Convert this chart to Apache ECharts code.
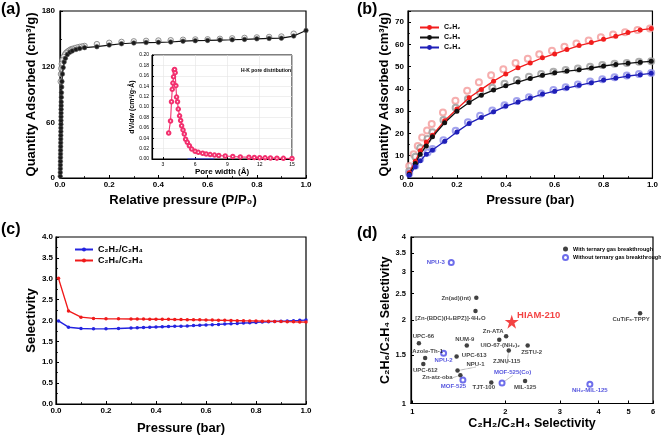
<!DOCTYPE html>
<html><head><meta charset="utf-8">
<script src="https://cdn.jsdelivr.net/npm/echarts@6/dist/echarts.min.js"></script>
<style>html,body{margin:0;padding:0;background:#fff}#c{width:661px;height:438px}</style>
</head><body><div id="c"></div>
<script>
// ---------- Panel (a): N2 isotherm ----------
const aAdsX = [0.001,0.0012,0.0014,0.0016,0.0018,0.002,0.0022,0.0024,0.0026,0.0028,0.003,0.0032,0.0034,0.0036,0.0038,0.004,0.0042,0.0044,0.0046,0.0048,0.005,0.0055,0.006,0.007,0.008,0.01,0.013,0.017,0.022,0.03,0.04,0.05,0.065,0.08,0.1,
  0.15,0.2,0.25,0.3,0.35,0.4,0.45,0.5,0.55,0.6,0.65,0.7,0.75,0.8,0.85,0.9,0.95,1.0];
const aAdsY = [2,6,10,14,18,22,26,30,34,38,42,46,50,54,58,62,66,70,74,78,82,87,92,98,104,112,119,125,129,133,135.5,137,138.5,139.5,140.5,
  141.5,143.3,144.7,145.5,146,146.2,146.6,147.5,148,148.3,148.7,149,149.4,150,150.4,150.7,153,159];
const aDesX = [0.95,0.9,0.85,0.8,0.75,0.7,0.65,0.6,0.55,0.5,0.45,0.4,0.35,0.3,0.25,0.2,0.15,0.1,0.09,0.08,0.07,0.06,0.05,0.045,0.04,0.035,0.03,0.025,0.02,0.015,0.01,0.007,0.005,0.004,0.003];
const aDesY = [155.5,152.5,152,151.5,151,150.5,150,149.5,149.3,149,148.5,148.2,147.8,147.3,146.7,145.7,144.3,142.3,141.8,141.3,140.7,140,139.2,138.6,137.9,137,136,134.8,133,130.5,127,123,118,112,104];
// inset: H-K pore distribution
const poreX = [3.55,3.72,3.81,3.88,3.94,4.0,4.06,4.1,4.15,4.22,4.28,4.37,4.44,4.56,4.66,4.75,4.88,5.0,5.12,5.28,5.47,5.69,6.0,6.3,6.7,7.03,7.4,7.8,8.2,8.8,9.5,10.2,11.0,11.5,12.0,12.5,13.0,13.6,14.2,15.0];
const poreY = [0.050,0.073,0.110,0.134,0.146,0.158,0.171,0.172,0.166,0.141,0.119,0.110,0.096,0.083,0.074,0.064,0.056,0.048,0.038,0.032,0.0255,0.019,0.0147,0.0128,0.011,0.0096,0.0085,0.0075,0.0068,0.0058,0.0048,0.004,0.0033,0.0029,0.0025,0.0022,0.002,0.0016,0.0013,0.001];
const poreBaseX = [5.3,7.8];
const poreBaseY = [0,0];
const poreXTicks = [3,6,9,12,15];

// ---------- Panel (b): single-component isotherms ----------
const bX = [0.005,0.03,0.05,0.075,0.1,0.15,0.2,0.25,0.3,0.35,0.4,0.45,0.5,0.55,0.6,0.65,0.7,0.75,0.8,0.85,0.9,0.95,0.995];
const bC2H2 = [2.4,7.5,12.2,16.2,19.2,25.7,31,36,39.8,43.5,46.7,49.5,51.7,54,55.7,57.7,59.5,60.8,62.3,63.7,65.3,66.5,67.1];
const bC2H6 = [1.7,6.5,10.7,14.4,18.5,24.8,30,33.9,37.2,39.5,41.4,43.1,44.7,46.2,47.3,48,48.6,49.4,50.3,51,51.5,52,52.4];
const bC2H4 = [1.2,5,7.7,10.7,12.6,16.5,20.7,24.5,27.2,29.7,32.3,34.1,35.9,37.7,39,40.4,41.6,42.8,44,44.9,45.8,46.4,47];
const bDesX1 = [0.005,0.023,0.04,0.058,0.078,0.097,0.143,0.194,0.242,0.29,0.34,0.39,0.44,0.49,0.537,0.589,0.64,0.689,0.739,0.789,0.839,0.888,0.939,0.99];
const bC2H2Des = [5.4,10.7,14.4,18.2,21.3,24.2,29.4,34.7,39.2,43,46.1,48.8,51.6,53.5,55.6,57.2,59,60.4,61.7,63.2,64.4,65.5,66.5,67.1];
const bDesX2 = [0.005,0.03,0.05,0.08,0.1,0.145,0.195,0.245,0.295,0.345,0.395,0.445,0.495,0.545,0.595,0.645,0.695,0.745,0.795,0.845,0.895,0.945,0.995];
const bC2H6Des = [3,9.5,13.5,17.5,20.5,26,31.5,35.5,38.5,40.5,42.3,44,45.5,46.7,47.7,48.5,49.2,50,50.7,51.3,51.7,52.2,52.4];
const bC2H4Des = [2,5.5,8.5,11.5,13,17,21.2,25,28,30.3,32.7,34.6,36.3,38,39.5,40.8,42,43.3,44.3,45.2,46,46.7,47.2];
const bNames = ['C\u2082H\u2082','C\u2082H\u2086','C\u2082H\u2084'];

// ---------- Panel (c): IAST selectivity ----------
const cX = [0.01,0.05,0.1,0.15,0.2,0.25,0.3,0.325,0.35,0.375,0.4,0.425,0.45,0.475,0.5,0.525,0.55,0.575,0.6,0.625,0.65,0.675,0.7,0.725,0.75,0.775,0.8,0.825,0.85,0.875,0.9,0.925,0.95,0.975,1.0];
const cC2H2 = [1.99,1.84,1.81,1.80,1.80,1.81,1.82,1.825,1.832,1.838,1.845,1.85,1.855,1.86,1.865,1.87,1.878,1.886,1.895,1.90,1.907,1.915,1.925,1.93,1.94,1.947,1.955,1.962,1.97,1.978,1.985,1.99,1.997,2.003,2.01];
const cC2H6 = [3.01,2.23,2.08,2.05,2.04,2.04,2.035,2.035,2.033,2.03,2.03,2.028,2.027,2.025,2.022,2.02,2.018,2.016,2.013,2.01,2.007,2.003,2.0,1.997,1.993,1.99,1.987,1.984,1.981,1.978,1.975,1.972,1.968,1.965,1.962];
const cNames = ['C\u2082H\u2082/C\u2082H\u2084','C\u2082H\u2086/C\u2082H\u2084'];

// ---------- Panel (d): comparison ----------
const withNames = ['Zn(ad)(int)','[Zn-(BDC)(H\u2082BPZ)]\u00b74H\u2082O','CuTiF\u2086-TPPY','Zn-ATA','UIO-67-(NH\u2082)\u2082','NUM-9','UPC-66','Azole-Th-1','UPC-613','ZJNU-115','ZSTU-2','UPC-612','NPU-1','Zn-atz-oba','TJT-100','MIL-125'];
const withX = [1.61,1.60,5.45,2.01,1.91,1.50,1.05,1.10,1.39,2.05,2.36,1.085,1.40,1.43,1.80,2.315];
const withY = [2.41,2.16,2.12,1.75,1.70,1.62,1.65,1.46,1.48,1.555,1.62,1.39,1.315,1.265,1.19,1.205];
const withoutNames = ['NPU-3','NPU-2','MOF-525','MOF-525(Co)','NH\u2082-MIL-125'];
const withoutX = [1.336,1.262,1.457,1.95,3.75];
const withoutY = [3.235,1.52,1.215,1.185,1.175];
const hiamName = 'HIAM-210';
const hiamX = 2.096, hiamY = 1.977;
const dXTicks = [1,2,3,4,5,6];
const dYTicks = [1,1.5,2,2.5,3,3.5,4];
const dLegend = ['With ternary gas breakthrough','Without ternary gas breakthrough'];

// ---------- label placement (style, kept apart from the data) ----------
const dLabelPlace = {
  'NPU-3':['left',0,0],
  'Zn(ad)(int)':['left',0,0],
  '[Zn-(BDC)(H\u2082BPZ)]\u00b74H\u2082O':['inside',-25,7.5],
  'CuTiF\u2086-TPPY':['inside',-9,6.5],
  'Zn-ATA':['inside',-13,-5],
  'UIO-67-(NH\u2082)\u2082':['inside',1,6],
  'NUM-9':['inside',-2,-6],
  'UPC-66':['inside',4.5,-7.5],
  'Azole-Th-1':['inside',2.5,-6.5],
  'NPU-2':['inside',0,7],
  'UPC-613':['right',0,-1.5],
  'ZJNU-115':['inside',-2,11],
  'ZSTU-2':['inside',4,6.5],
  'UPC-612':['inside',2,6.5],
  'NPU-1':['inside',18,-6.5],
  'Zn-atz-oba':['inside',-23,2.5],
  'MOF-525':['inside',-9.5,6],
  'TJT-100':['inside',-7.5,5],
  'MOF-525(Co)':['inside',10.5,-10.5],
  'MIL-125':['inside',0,6.5],
  'NH\u2082-MIL-125':['inside',0,6.5],
  'HIAM-210':['inside',27,-6]
};
const dLeaders = ['NPU-1','Zn-atz-oba','MOF-525(Co)','ZJNU-115'];

const FF = '"Liberation Sans", Arial, sans-serif';
const zip = (xs, ys) => xs.map((x, i) => [x, ys[i]]);

function axis(extra) {
  const base = {
    type: 'value',
    axisLine: {show: true, onZero: false, lineStyle: {color: '#000', width: 1.2}},
    axisTick: {show: true, inside: true, length: 3, lineStyle: {color: '#000', width: 1}},
    minorTick: {show: true, splitNumber: 2, length: 2, lineStyle: {color: '#000', width: 0.8}},
    splitLine: {show: false},
    axisLabel: {color: '#000', fontFamily: FF, fontWeight: 'bold', fontSize: 8, margin: 4},
    nameLocation: 'middle',
    nameTextStyle: {color: '#000', fontFamily: FF, fontWeight: 'bold', fontSize: 13}
  };
  for (const k in extra) {
    if (base[k] && typeof base[k] === 'object' && typeof extra[k] === 'object' && !Array.isArray(extra[k])) {
      base[k] = Object.assign({}, base[k], extra[k]);
    } else base[k] = extra[k];
  }
  return base;
}
const fix = d => v => v.toFixed(d);

const gridBox = {show: true, borderColor: '#000', borderWidth: 1.2, containLabel: false};
const grids = [
  Object.assign({left: 60, top: 11, width: 246, height: 167}, gridBox),
  Object.assign({left: 152, top: 55, width: 140, height: 104, backgroundColor: '#fff'}, gridBox, {borderWidth: 1}),
  Object.assign({left: 408, top: 11, width: 246, height: 167}, gridBox),
  Object.assign({left: 56, top: 237, width: 250, height: 167}, gridBox),
  Object.assign({left: 411, top: 237, width: 242, height: 166.5}, gridBox)
];

const xAxes = [
  axis({gridIndex: 0, min: 0, max: 1, interval: 0.2, name: 'Relative pressure (P/P\u2080)', nameGap: 16, axisLabel: {formatter: fix(1), margin: 3}}),
  axis({gridIndex: 1, min: 2, max: 15, name: 'Pore width (\u00c5)', nameGap: 9,
    nameTextStyle: {fontSize: 8},
    minorTick: {show: false},
    axisTick: {customValues: poreXTicks, length: 2},
    axisLabel: {customValues: poreXTicks, fontSize: 5, margin: 3, fontWeight: 'normal'},
    splitLine: {show: true, lineStyle: {color: '#e4e4e4', width: 0.6}}}),
  axis({gridIndex: 2, min: 0, max: 1, interval: 0.2, name: 'Pressure (bar)', nameGap: 16, axisLabel: {formatter: fix(1), margin: 3}}),
  axis({gridIndex: 3, min: 0, max: 1, interval: 0.2, name: 'Pressure (bar)', nameGap: 18, axisLabel: {formatter: fix(1), margin: 3}}),
  axis({gridIndex: 4, type: 'log', logBase: 10, min: 0.99, max: 6, name: 'C\u2082H\u2082/C\u2082H\u2084 Selectivity', nameGap: 14,
    nameTextStyle: {fontSize: 12.5},
    minorTick: {show: false},
    axisTick: {customValues: dXTicks},
    axisLabel: {customValues: dXTicks, fontSize: 7.5, margin: 4, formatter: v => String(v)}})
];
const yAxes = [
  axis({gridIndex: 0, min: 0, max: 180, interval: 60, name: 'Quantity Adsorbed (cm\u00b3/g)', nameGap: 20, axisLabel: {margin: 5}}),
  axis({gridIndex: 1, min: 0, max: 0.2, interval: 0.02, name: 'dV/dw (cm\u00b3/g\u00b7\u00c5)', nameGap: 15,
    nameTextStyle: {fontSize: 7},
    minorTick: {show: false},
    axisTick: {length: 2},
    axisLabel: {formatter: fix(2), fontSize: 5, margin: 3, fontWeight: 'normal'},
    splitLine: {show: true, lineStyle: {color: '#e4e4e4', width: 0.6}}}),
  axis({gridIndex: 2, min: 0, max: 75, interval: 10, name: 'Quantity Adsorbed (cm\u00b3/g)', nameGap: 15,
    axisLabel: {margin: 4, formatter: v => (v % 10 === 0 ? String(v) : '')}}),
  axis({gridIndex: 3, min: 0, max: 4, interval: 0.5, name: 'Selectivity', nameGap: 17, axisLabel: {formatter: fix(1), margin: 3}}),
  axis({gridIndex: 4, type: 'log', logBase: 10, min: 1, max: 4, name: 'C\u2082H\u2086/C\u2082H\u2084 Selectivity', nameGap: 16,
    nameTextStyle: {fontSize: 12.5},
    minorTick: {show: false},
    axisTick: {customValues: dYTicks},
    axisLabel: {customValues: dYTicks, fontSize: 7.5, margin: 5, formatter: v => String(v)}})
];

const RED = '#f21d1d', BLK = '#111111', BLU = '#1f1fb8';
const labelFont = {fontFamily: FF, fontWeight: 'bold', fontSize: 6};
function dItems(names, xs, ys, color) {
  return names.map((n, i) => {
    const p = dLabelPlace[n] || ['right', 0, 0];
    const item = {name: n, value: [xs[i], ys[i]],
      label: {show: true, position: p[0], offset: [p[1], p[2]], distance: 3, formatter: '{b}', color: color}};
    if (dLeaders.indexOf(n) >= 0) {
      item.labelLine = {show: true, length2: 0, lineStyle: {color: '#333', width: 0.6, type: 'dotted'}};
    }
    return item;
  });
}

const series = [
  {type: 'scatter', xAxisIndex: 0, yAxisIndex: 0, data: zip(aDesX, aDesY), symbol: 'circle', symbolSize: 5.5,
    itemStyle: {color: 'rgba(235,235,235,0.9)', borderColor: '#7a7a7a', borderWidth: 1}, z: 2},
  {type: 'line', xAxisIndex: 0, yAxisIndex: 0, data: zip(aAdsX, aAdsY), symbol: 'circle', symbolSize: 4.5,
    lineStyle: {color: BLK, width: 1.2}, itemStyle: {color: '#1a1a1a', borderColor: '#555', borderWidth: 0.6}, z: 3},
  {type: 'line', xAxisIndex: 1, yAxisIndex: 1, data: zip(poreBaseX, poreBaseY), symbol: 'none',
    lineStyle: {color: '#3344ff', width: 1.2}, z: 3},
  {type: 'line', xAxisIndex: 1, yAxisIndex: 1, data: zip(poreX, poreY), symbol: 'emptyCircle', symbolSize: 3.5,
    lineStyle: {color: '#f2306e', width: 1.1}, itemStyle: {color: '#f2306e', borderWidth: 0.9}, z: 4},
  {type: 'scatter', xAxisIndex: 2, yAxisIndex: 2, data: zip(bDesX1, bC2H2Des), symbol: 'emptyCircle', symbolSize: 6,
    itemStyle: {color: '#f49a9a', borderColor: '#f49a9a', borderWidth: 1}, z: 2},
  {type: 'scatter', xAxisIndex: 2, yAxisIndex: 2, data: zip(bDesX2, bC2H6Des), symbol: 'emptyCircle', symbolSize: 6,
    itemStyle: {color: '#9a9a9a', borderColor: '#9a9a9a', borderWidth: 1}, z: 2},
  {type: 'scatter', xAxisIndex: 2, yAxisIndex: 2, data: zip(bDesX2, bC2H4Des), symbol: 'emptyCircle', symbolSize: 6,
    itemStyle: {color: '#8c8ce8', borderColor: '#8c8ce8', borderWidth: 1}, z: 2},
  {name: bNames[0], type: 'line', xAxisIndex: 2, yAxisIndex: 2, data: zip(bX, bC2H2), symbol: 'circle', symbolSize: 5,
    color: RED, lineStyle: {width: 1.3}, z: 3},
  {name: bNames[1], type: 'line', xAxisIndex: 2, yAxisIndex: 2, data: zip(bX, bC2H6), symbol: 'circle', symbolSize: 5,
    color: BLK, lineStyle: {width: 1.3}, z: 3},
  {name: bNames[2], type: 'line', xAxisIndex: 2, yAxisIndex: 2, data: zip(bX, bC2H4), symbol: 'circle', symbolSize: 5,
    color: BLU, lineStyle: {width: 1.3}, z: 3},
  {name: cNames[0], type: 'line', xAxisIndex: 3, yAxisIndex: 3, data: zip(cX, cC2H2), symbol: 'circle', symbolSize: 3.5,
    color: '#2424e0', lineStyle: {width: 1.4}},
  {name: cNames[1], type: 'line', xAxisIndex: 3, yAxisIndex: 3, data: zip(cX, cC2H6), symbol: 'circle', symbolSize: 3.5,
    color: '#f01a1a', lineStyle: {width: 1.4}},
  {name: dLegend[0], type: 'scatter', xAxisIndex: 4, yAxisIndex: 4, data: dItems(withNames, withX, withY, '#111'),
    symbol: 'circle', symbolSize: 4.5, itemStyle: {color: '#111'}, label: labelFont, z: 4},
  {name: dLegend[1], type: 'scatter', xAxisIndex: 4, yAxisIndex: 4, data: dItems(withoutNames, withoutX, withoutY, '#2b2bd6'),
    symbol: 'emptyCircle', symbolSize: 5, itemStyle: {color: '#4a4ae6', borderColor: '#4a4ae6', borderWidth: 0.9}, label: labelFont, z: 4},
  {type: 'scatter', xAxisIndex: 4, yAxisIndex: 4, data: dItems([hiamName], [hiamX], [hiamY], '#f01414'),
    symbol: 'path://M50,0 L61.2,34.5 L97.6,34.5 L68.2,55.9 L79.4,90.5 L50,69.1 L20.6,90.5 L31.8,55.9 L2.4,34.5 L38.8,34.5 Z',
    symbolSize: 14, itemStyle: {color: '#f01414'}, label: {fontFamily: FF, fontWeight: 'bold', fontSize: 9.5}, z: 5}
];

const legends = [
  {data: bNames, left: 414, top: 19, orient: 'vertical', itemWidth: 19, itemHeight: 6, itemGap: 3,
    textStyle: {fontFamily: FF, fontWeight: 'bold', fontSize: 7, color: '#000'}, selectedMode: false},
  {data: cNames, left: 69, top: 240, orient: 'vertical', itemWidth: 18, itemHeight: 5, itemGap: 2,
    textStyle: {fontFamily: FF, fontWeight: 'bold', fontSize: 9, color: '#000'}, selectedMode: false},
  {data: dLegend, left: 557, top: 241, orient: 'vertical', itemWidth: 5, itemHeight: 5, itemGap: 2,
    textStyle: {fontFamily: FF, fontWeight: 'bold', fontSize: 5.5, color: '#000'}, selectedMode: false}
];

const letter = (t, l, tp) => ({type: 'text', left: l, top: tp, style: {text: t, fontFamily: FF, fontWeight: 'bold', fontSize: 16, fill: '#000'}});
const option = {
  backgroundColor: '#fff',
  animation: false,
  grid: grids,
  xAxis: xAxes,
  yAxis: yAxes,
  legend: legends,
  series: series,
  graphic: [
    letter('(a)', 1, 2), letter('(b)', 357, 2), letter('(c)', 1, 222), letter('(d)', 357, 226),
    {type: 'text', left: 241, top: 68, style: {text: 'H-K pore distribution', fontFamily: FF, fontWeight: 'bold', fontSize: 5, fill: '#000'}, z: 10}
  ]
};
const chart = echarts.init(document.getElementById('c'), null, {renderer: 'canvas'});
chart.setOption(option);
</script></body></html>
